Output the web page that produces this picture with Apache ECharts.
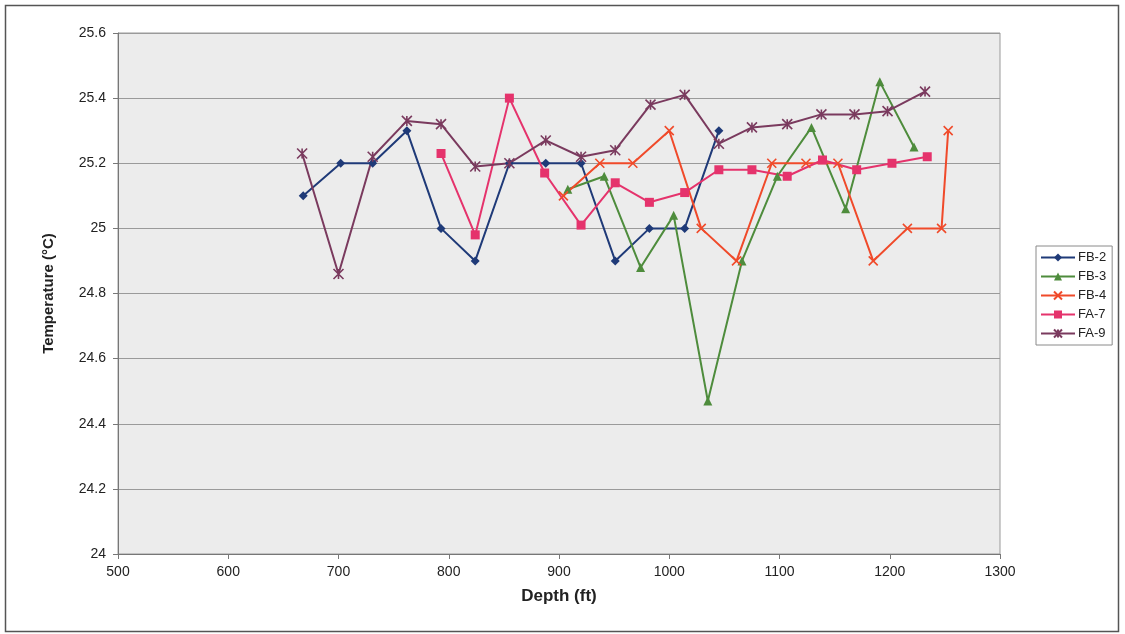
<!DOCTYPE html>
<html>
<head>
<meta charset="utf-8">
<script src="https://cdn.jsdelivr.net/npm/echarts@6/dist/echarts.min.js"></script>
<style>
  html, body { margin: 0; padding: 0; background: #fff; }
  #chart { width: 1125px; height: 634px; }
</style>
</head>
<body>
<div id="chart"></div>
<script>
// depth (ft) and temperature (°C)
var fb2Depth = [668, 702, 731, 762, 793, 824, 855, 888, 920, 951, 982, 1014, 1045];
var fb2Temp  = [25.1, 25.2, 25.2, 25.3, 25.0, 24.9, 25.2, 25.2, 25.2, 24.9, 25.0, 25.0, 25.3];

var fb3Depth = [908, 941, 974, 1004, 1035, 1066, 1098, 1129, 1160, 1191, 1222];
var fb3Temp  = [25.12, 25.16, 24.88, 25.04, 24.47, 24.9, 25.16, 25.31, 25.06, 25.45, 25.25];

var fb4Depth = [904, 937, 967, 1000, 1029, 1061, 1093, 1124, 1153, 1185, 1216, 1247, 1253];
var fb4Temp  = [25.1, 25.2, 25.2, 25.3, 25.0, 24.9, 25.2, 25.2, 25.2, 24.9, 25.0, 25.0, 25.3];

var fa7Depth = [793, 824, 855, 887, 920, 951, 982, 1014, 1045, 1075, 1107, 1139, 1170, 1202, 1234];
var fa7Temp  = [25.23, 24.98, 25.40, 25.17, 25.01, 25.14, 25.08, 25.11, 25.18, 25.18, 25.16, 25.21, 25.18, 25.20, 25.22];

var fa9Depth = [667, 700, 731, 762, 793, 824, 855, 888, 920, 951, 983, 1014, 1045, 1075, 1107, 1138, 1168, 1198, 1232];
var fa9Temp  = [25.23, 24.86, 25.22, 25.33, 25.32, 25.19, 25.20, 25.27, 25.22, 25.24, 25.38, 25.41, 25.26, 25.31, 25.32, 25.35, 25.35, 25.36, 25.42];

var seriesNames = ['FB-2', 'FB-3', 'FB-4', 'FA-7', 'FA-9'];

function pairs(xs, ys) {
    var out = [];
    for (var i = 0; i < xs.length; i++) out.push([xs[i], ys[i]]);
    return out;
}

var myChart = echarts.init(document.getElementById('chart'));

var crossPath = 'path://M0,0L10,10M10,0L0,10';
var starPath = 'path://M0,0L10,10M10,0L0,10M5,0L5,10';

function makeSeries(name, data, color, symbol, size, stroke) {
    var s = {
        name: name,
        type: 'line',
        data: data,
        color: color,
        symbol: symbol,
        symbolSize: size,
        showSymbol: true,
        lineStyle: { color: color, width: 2 },
        itemStyle: { color: color },
        emphasis: { disabled: true }
    };
    if (stroke) {
        s.itemStyle = { color: 'none', borderColor: color, borderWidth: 1.6 };
    }
    return s;
}

var option = {
    animation: false,
    textStyle: { fontFamily: 'Liberation Sans, Arial, sans-serif' },
    grid: {
        left: 118,
        right: 125,
        top: 33,
        bottom: 80,
        show: true,
        backgroundColor: '#ececec',
        borderColor: '#9a9a9a',
        borderWidth: 1
    },
    legend: {
        data: seriesNames,
        orient: 'vertical',
        left: 1036,
        top: 246,
        itemGap: 6,
        itemWidth: 34,
        itemHeight: 10,
        padding: [5, 6, 5, 4],
        borderColor: '#8a8a8a',
        borderWidth: 1,
        backgroundColor: '#fff',
        textStyle: { fontSize: 13, color: '#222', padding: [0, 0, 0, -2] }
    },
    xAxis: {
        type: 'value',
        min: 500,
        max: 1300,
        interval: 100,
        name: 'Depth (ft)',
        nameLocation: 'middle',
        nameGap: 34,
        nameTextStyle: { fontSize: 17, fontWeight: 'bold', color: '#222' },
        axisLine: { show: true, onZero: false, lineStyle: { color: '#777' } },
        axisTick: { show: true, length: 5, lineStyle: { color: '#777' } },
        axisLabel: { fontSize: 14, color: '#222', margin: 11, formatter: function (v) { return String(v); } },
        splitLine: { show: false }
    },
    yAxis: {
        type: 'value',
        min: 24,
        max: 25.6,
        interval: 0.2,
        name: 'Temperature (°C)',
        nameLocation: 'middle',
        nameGap: 62,
        nameTextStyle: { fontSize: 15, fontWeight: 'bold', color: '#222' },
        axisLine: { show: true, lineStyle: { color: '#777' } },
        axisTick: { show: true, length: 5, lineStyle: { color: '#777' } },
        axisLabel: { fontSize: 14, color: '#222', margin: 12 },
        splitLine: { show: true, lineStyle: { color: '#9a9a9a', width: 1 } }
    },
    graphic: [{
        type: 'rect',
        shape: { x: 5.5, y: 5.5, width: 1113, height: 626 },
        style: { fill: 'none', stroke: '#555', lineWidth: 1.5 },
        silent: true,
        z: -1
    }],
    series: [
        makeSeries('FB-2', pairs(fb2Depth, fb2Temp), '#1f3a78', 'diamond', 9),
        makeSeries('FB-3', pairs(fb3Depth, fb3Temp), '#4e8c3c', 'triangle', 9),
        makeSeries('FB-4', pairs(fb4Depth, fb4Temp), '#f04a2a', crossPath, 9, true),
        makeSeries('FA-7', pairs(fa7Depth, fa7Temp), '#e5336c', 'rect', 9),
        makeSeries('FA-9', pairs(fa9Depth, fa9Temp), '#7a3a5e', starPath, 10, true)
    ]
};

myChart.setOption(option);
</script>
</body>
</html>
